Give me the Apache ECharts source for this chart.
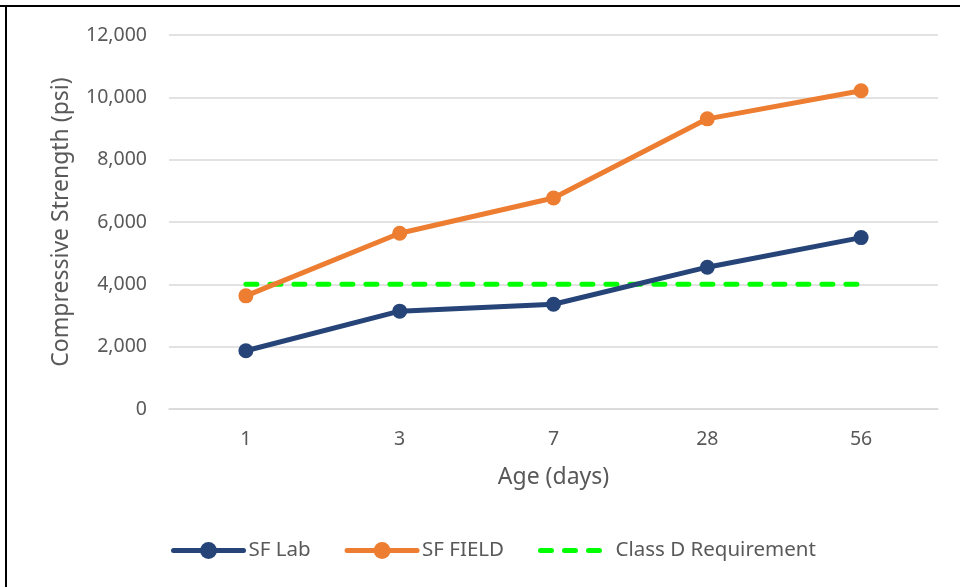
<!DOCTYPE html>
<html>
<head>
<meta charset="utf-8">
<script src="https://cdn.jsdelivr.net/npm/echarts@6/dist/echarts.min.js"></script>
<style>
html,body{margin:0;padding:0;background:#fff;}
#chart{width:960px;height:587px;}
</style>
</head>
<body>
<div id="chart"></div>
<script>
const categories = ['1', '3', '7', '28', '56'];
const sfLab = [1870, 3140, 3360, 4550, 5500];
const sfField = [3630, 5640, 6770, 9310, 10210];
const classD = [4000, 4000, 4000, 4000, 4000];
const yTicks = { min: 0, max: 12000, interval: 2000 };

const FONT = 'Noto Sans';
const TXT = '#595959';
const chart = echarts.init(document.getElementById('chart'));
chart.setOption({
  animation: false,
  backgroundColor: '#fff',
  textStyle: { fontFamily: FONT },
  graphic: [
    { type: 'line', shape: { x1: 0, y1: 6, x2: 960, y2: 6 }, style: { stroke: '#000', lineWidth: 2 } },
    { type: 'line', shape: { x1: 6, y1: 5, x2: 6, y2: 587 }, style: { stroke: '#000', lineWidth: 2 } }
  ],
  grid: { left: 169, right: 22, top: 35, bottom: 178 },
  legend: {
    left: 166, top: 535,
    itemWidth: 70, itemHeight: 21, itemGap: 34,
    lineStyle: { width: 5 },
    textStyle: { color: TXT, fontSize: 20.5, fontFamily: FONT },
    data: [
      'SF Lab',
      'SF FIELD',
      { name: 'Class D Requirement', itemStyle: { opacity: 0 } }
    ]
  },
  xAxis: {
    type: 'category',
    data: categories,
    boundaryGap: true,
    name: 'Age (days)',
    nameLocation: 'middle',
    nameGap: 57,
    nameTextStyle: { color: TXT, fontSize: 23, fontFamily: FONT },
    axisLine: { lineStyle: { color: '#d9d9d9', width: 1.5 } },
    axisTick: { show: false },
    axisLabel: { color: TXT, fontSize: 19.5, margin: 20, fontFamily: FONT }
  },
  yAxis: {
    type: 'value',
    min: yTicks.min, max: yTicks.max, interval: yTicks.interval,
    name: 'Compressive Strength (psi)',
    nameLocation: 'middle',
    nameGap: 96,
    nameTextStyle: { color: TXT, fontSize: 23, fontFamily: FONT },
    axisLine: { show: false },
    axisTick: { show: false },
    splitLine: { lineStyle: { color: '#d9d9d9', width: 1.5 } },
    axisLabel: {
      color: TXT, fontSize: 19.5, margin: 22, fontFamily: FONT,
      formatter: v => v.toLocaleString('en-US')
    }
  },
  series: [
    {
      name: 'SF Lab', type: 'line', data: sfLab,
      symbol: 'circle', symbolSize: 15,
      itemStyle: { color: '#264478' },
      lineStyle: { color: '#264478', width: 5, cap: 'round' }
    },
    {
      name: 'SF FIELD', type: 'line', data: sfField,
      symbol: 'circle', symbolSize: 15,
      itemStyle: { color: '#ED7D31' },
      lineStyle: { color: '#ED7D31', width: 5, cap: 'round' }
    },
    {
      name: 'Class D Requirement', type: 'line', data: classD,
      symbol: 'none',
      itemStyle: { color: '#00FF00' },
      lineStyle: { color: '#00FF00', width: 5, type: [11, 13], cap: 'round' },
      z: 1
    }
  ]
});
</script>
</body>
</html>
